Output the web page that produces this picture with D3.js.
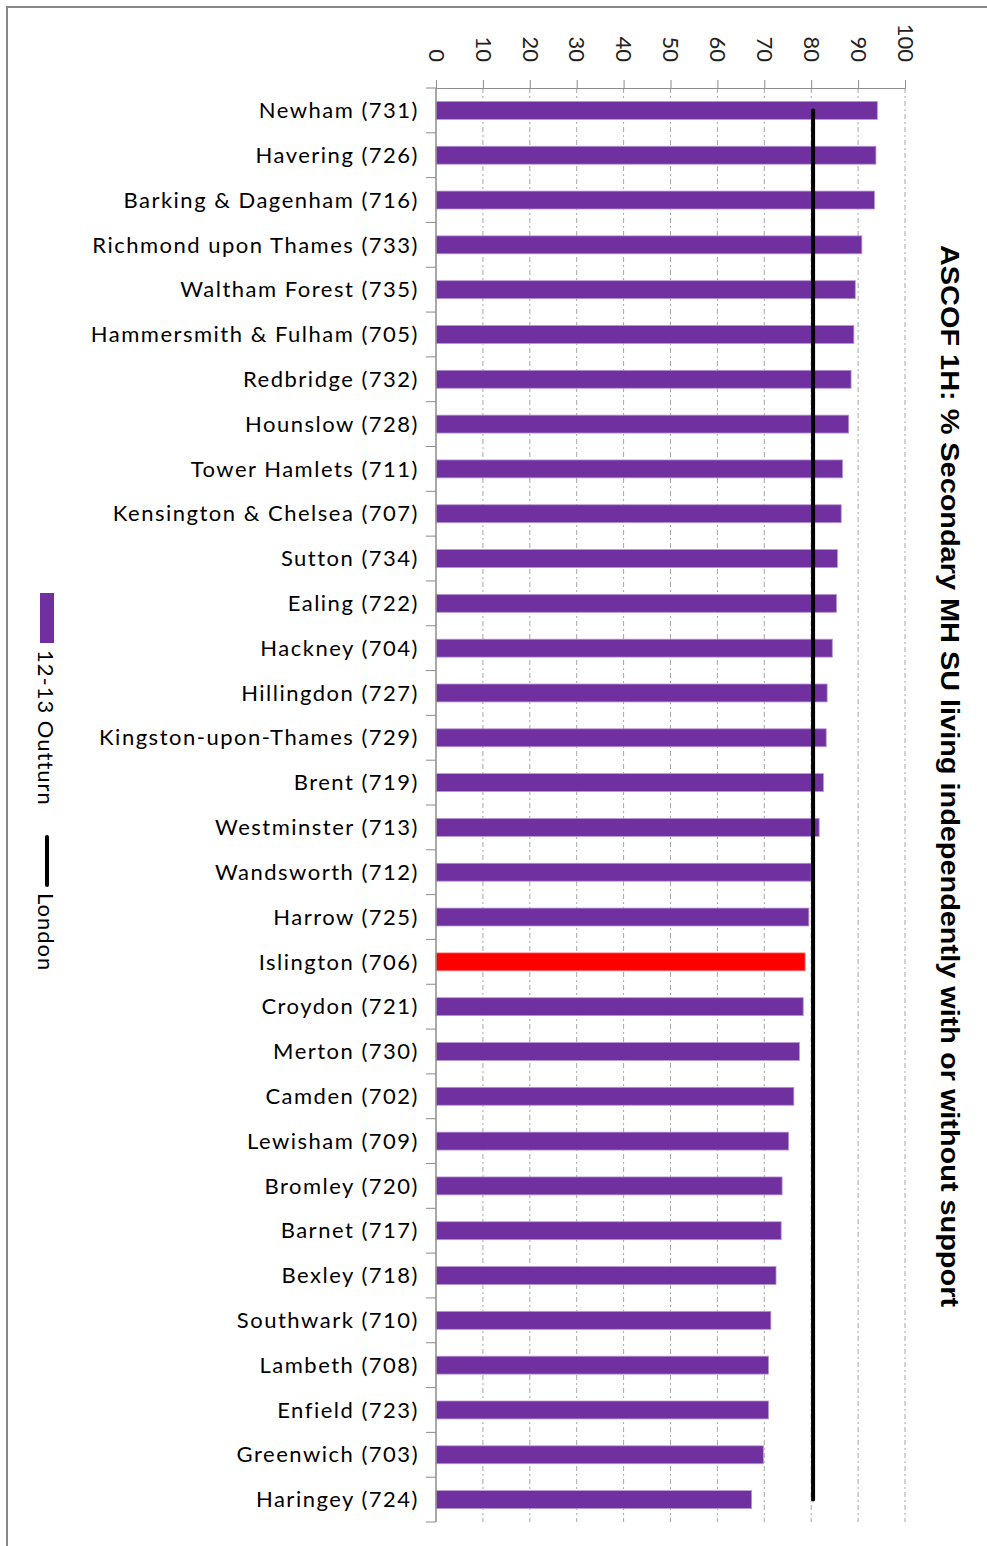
<!DOCTYPE html>
<html>
<head>
<meta charset="utf-8">
<script src="https://cdn.jsdelivr.net/npm/d3@7"></script>
<style>
  body { margin: 0; background: #fff; }
  svg { display: block; }
</style>
</head>
<body>
<svg id="chart" width="987" height="1546"></svg>
<script>
// boroughs, top to bottom
const boroughs = [
  "Newham (731)", "Havering (726)", "Barking & Dagenham (716)", "Richmond upon Thames (733)",
  "Waltham Forest (735)", "Hammersmith & Fulham (705)", "Redbridge (732)", "Hounslow (728)",
  "Tower Hamlets (711)", "Kensington & Chelsea (707)", "Sutton (734)", "Ealing (722)",
  "Hackney (704)", "Hillingdon (727)", "Kingston-upon-Thames (729)", "Brent (719)",
  "Westminster (713)", "Wandsworth (712)", "Harrow (725)", "Islington (706)",
  "Croydon (721)", "Merton (730)", "Camden (702)", "Lewisham (709)",
  "Bromley (720)", "Barnet (717)", "Bexley (718)", "Southwark (710)",
  "Lambeth (708)", "Enfield (723)", "Greenwich (703)", "Haringey (724)"
];
// 12-13 outturn, %
const outturn = [
  94.1, 93.8, 93.5, 90.8, 89.4, 89.1, 88.5, 88.0,
  86.7, 86.4, 85.6, 85.4, 84.5, 83.4, 83.2, 82.6,
  81.7, 80.0, 79.5, 78.7, 78.3, 77.5, 76.3, 75.2,
  73.8, 73.6, 72.5, 71.4, 70.9, 70.9, 69.8, 67.3
];
const london = 80.4;
const highlight = "Islington (706)";
const xTicks = [0, 10, 20, 30, 40, 50, 60, 70, 80, 90, 100];

const svg = d3.select("#chart");
const purple = "#7030a0";
const axisGrey = "#8c8c8c";
const labelFont = "Lato, 'Open Sans', sans-serif";

// outer frame
svg.append("path")
  .attr("d", "M7,1546 V7 H987")
  .style("fill", "none")
  .style("stroke", "#878787")
  .style("stroke-width", 2);

const x = d3.scaleLinear().domain([0, 100]).range([436, 905]);
const y = d3.scaleBand().domain(boroughs).range([88, 1522])
  .paddingInner(0.6).paddingOuter(0.3);

// grid
svg.append("g").selectAll("line")
  .data(xTicks.filter(d => d > 0))
  .join("line")
  .attr("x1", d => x(d)).attr("x2", d => x(d))
  .attr("y1", 88).attr("y2", 1522)
  .style("stroke", "#a6a6a6")
  .style("stroke-width", 1)
  .style("stroke-dasharray", "5,3,2,3");

// value axis on top
const xAxis = svg.append("g")
  .attr("transform", "translate(0,88)")
  .call(d3.axisTop(x).tickValues(xTicks).tickSize(8).tickSizeOuter(0).tickFormat(d3.format("d")));
xAxis.select(".domain").style("stroke", axisGrey);
xAxis.selectAll(".tick line").style("stroke", axisGrey);
xAxis.selectAll(".tick text")
  .attr("transform", "translate(0,-26) rotate(90)")
  .attr("x", 0).attr("y", 0).attr("dy", "0.35em")
  .style("text-anchor", "end")
  .style("font-family", labelFont)
  .style("font-size", "22px")
  .style("fill", "#222");

// bars
svg.append("g").selectAll("rect")
  .data(boroughs)
  .join("rect")
  .attr("x", x(0))
  .attr("y", d => y(d))
  .attr("width", (d, i) => x(outturn[i]) - x(0))
  .attr("height", y.bandwidth())
  .style("fill", d => d === highlight ? "#ff0000" : purple)
  .style("stroke", d => d === highlight ? "#ff8080" : "#b996d3")
  .style("stroke-width", 0.8);

// category axis
const bounds = d3.range(boroughs.length + 1).map(i => y.range()[0] + i * y.step());
svg.append("line")
  .attr("x1", x(0)).attr("x2", x(0))
  .attr("y1", 88).attr("y2", bounds[bounds.length - 1])
  .style("stroke", axisGrey).style("stroke-width", 1.5);
svg.append("g").selectAll("line")
  .data(bounds)
  .join("line")
  .attr("x1", x(0) - 10).attr("x2", x(0))
  .attr("y1", d => d).attr("y2", d => d)
  .style("stroke", axisGrey).style("stroke-width", 1);

svg.append("g").selectAll("text")
  .data(boroughs)
  .join("text")
  .attr("x", 419)
  .attr("y", d => y(d) + y.bandwidth() / 2)
  .attr("dy", "0.35em")
  .style("text-anchor", "end")
  .style("font-family", labelFont)
  .style("font-size", "22px")
  .style("letter-spacing", "1.5px")
  .style("fill", "#000")
  .text(d => d);

// London line
const line = d3.line()
  .x(() => x(london))
  .y(d => y(d) + y.bandwidth() / 2);
svg.append("path")
  .datum([boroughs[0], boroughs[boroughs.length - 1]])
  .attr("d", line)
  .style("fill", "none")
  .style("stroke", "#000")
  .style("stroke-width", 4)
  .style("stroke-linecap", "round");

// title
svg.append("text")
  .attr("transform", "translate(941,776) rotate(90)")
  .attr("textLength", 1062)
  .attr("lengthAdjust", "spacingAndGlyphs")
  .style("text-anchor", "middle")
  .style("font-family", "'Liberation Sans', Arial, sans-serif")
  .style("font-weight", "bold")
  .style("font-size", "25px")
  .text("ASCOF 1H: % Secondary MH SU living independently with or without support");

// legend
const legend = svg.append("g");
legend.append("rect")
  .attr("x", 40).attr("y", 593).attr("width", 14).attr("height", 50)
  .style("fill", purple);
legend.append("text")
  .attr("transform", "translate(38,650) rotate(90)")
  .style("font-family", labelFont)
  .style("font-size", "22px")
  .style("letter-spacing", "1px")
  .text("12-13 Outturn");
legend.append("line")
  .attr("x1", 47).attr("x2", 47).attr("y1", 837).attr("y2", 885)
  .style("stroke", "#000").style("stroke-width", 4).style("stroke-linecap", "round");
legend.append("text")
  .attr("transform", "translate(38,893) rotate(90)")
  .style("font-family", labelFont)
  .style("font-size", "22px")
  .style("letter-spacing", "1px")
  .text("London");
</script>
</body>
</html>
